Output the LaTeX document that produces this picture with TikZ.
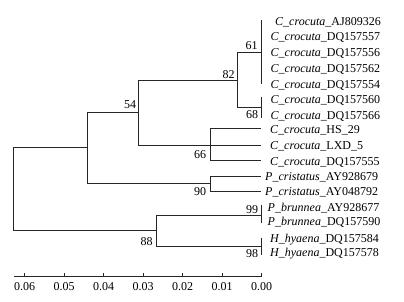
\documentclass[tikz,border=0pt]{standalone}
\usepackage{fontspec}
\setmainfont{Liberation Serif}
\begin{document}
\begin{tikzpicture}[x=1pt,y=-1pt,
  br/.style={line width=0.8pt,draw=black!85},
  leaflab/.style={anchor=base west,inner sep=0pt,font=\fontsize{12}{14}\selectfont},
  boot/.style={anchor=base,inner sep=0pt,font=\fontsize{12}{14}\selectfont},
  ticklab/.style={anchor=base,inner sep=0pt,font=\fontsize{12}{14}\selectfont}]
\useasboundingbox (0,0) rectangle (404,301);
% internal nodes
\coordinate (root) at (13,189);
\coordinate (nA) at (87,147.5);
\coordinate (n54) at (138,112.5);
\coordinate (n82) at (237,80);
\coordinate (n61) at (261,52);
\coordinate (t61) at (261,20);
\coordinate (b61) at (261,84);
\coordinate (n68) at (261,107.5);
\coordinate (t68) at (261,97);
\coordinate (b68) at (261,118);
\coordinate (n66) at (210,145);
\coordinate (n90) at (210,183.5);
\coordinate (n88) at (156,230.5);
\coordinate (n99) at (261,215);
\coordinate (t99) at (261,205);
\coordinate (b99) at (261,223);
\coordinate (n98) at (261,246.5);
\coordinate (t98) at (261,238);
\coordinate (b98) at (261,255);
% leaves
\coordinate (l8) at (261,128);
\coordinate (l9) at (261,145);
\coordinate (l10) at (261,160);
\coordinate (l11) at (261,176);
\coordinate (l12) at (261,191);
% branches
\draw[br] (root) |- (nA);
\draw[br] (root) |- (n88);
\draw[br] (nA) |- (n54);
\draw[br] (nA) |- (n90);
\draw[br] (n54) |- (n82);
\draw[br] (n54) |- (n66);
\draw[br] (n82) |- (n61);
\draw[br] (n82) |- (n68);
\draw[br] (t61) -- (b61);
\draw[br] (t68) -- (b68);
\draw[br] (n66) |- (l8);
\draw[br] (n66) -- (l9);
\draw[br] (n66) |- (l10);
\draw[br] (n90) |- (l11);
\draw[br] (n90) |- (l12);
\draw[br] (n88) |- (n99);
\draw[br] (n88) |- (n98);
\draw[br] (t99) -- (b99);
\draw[br] (t98) -- (b98);
% leaf labels
\node[leaflab] (lab1) at (275,25) {\textit{C\_crocuta}\_AJ809326};
\node[leaflab] (lab2) at (270.5,40) {\textit{C\_crocuta}\_DQ157557};
\node[leaflab] (lab3) at (270.5,56) {\textit{C\_crocuta}\_DQ157556};
\node[leaflab] (lab4) at (270.5,72.5) {\textit{C\_crocuta}\_DQ157562};
\node[leaflab] (lab5) at (270.5,88) {\textit{C\_crocuta}\_DQ157554};
\node[leaflab] (lab6) at (270.5,103.5) {\textit{C\_crocuta}\_DQ157560};
\node[leaflab] (lab7) at (270.5,119) {\textit{C\_crocuta}\_DQ157566};
\node[leaflab] (lab8) at (270,133) {\textit{C\_crocuta}\_HS\_29};
\node[leaflab] (lab9) at (270,149) {\textit{C\_crocuta}\_LXD\_5};
\node[leaflab] (lab10) at (270,165) {\textit{C\_crocuta}\_DQ157555};
\node[leaflab] (lab11) at (265,180) {\textit{P\_cristatus}\_AY928679};
\node[leaflab] (lab12) at (265,195) {\textit{P\_cristatus}\_AY048792};
\node[leaflab] (lab13) at (267.5,211) {\textit{P\_brunnea}\_AY928677};
\node[leaflab] (lab14) at (267.5,225) {\textit{P\_brunnea}\_DQ157590};
\node[leaflab] (lab15) at (270,242) {\textit{H\_hyaena}\_DQ157584};
\node[leaflab] (lab16) at (270,256) {\textit{H\_hyaena}\_DQ157578};
% bootstrap values
\node[boot] (b61lab) at (251.5,49.5) {61};
\node[boot] (b82lab) at (228.5,78) {82};
\node[boot] (b68lab) at (252,118) {68};
\node[boot] (b54lab) at (130,108.5) {54};
\node[boot] (b66lab) at (200,158) {66};
\node[boot] (b90lab) at (200,195) {90};
\node[boot] (b88lab) at (146.5,245) {88};
\node[boot] (b99lab) at (252,213) {99};
\node[boot] (b98lab) at (252,257) {98};
% scale axis
\coordinate (ax0) at (14,276);
\coordinate (ax1) at (262,276);
\draw[br] (ax0) -- (ax1);
\foreach \i/\v in {0/0.06,1/0.05,2/0.04,3/0.03,4/0.02,5/0.01,6/0.00}{
  \coordinate (tk\i) at ({24.5+39.5*\i},276);
  \draw[br] (tk\i) -- ++(0,-3.5);
  \node[ticklab] (tl\i) at ({24.5+39.5*\i},290) {\v};
}
\end{tikzpicture}
\end{document}
